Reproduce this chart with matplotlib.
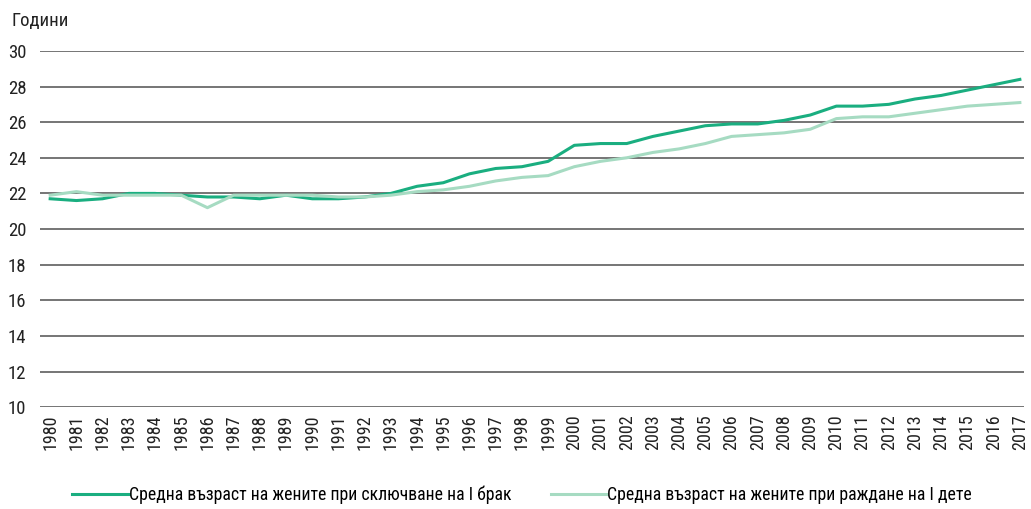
import matplotlib
matplotlib.use('Agg')
import matplotlib.pyplot as plt
from matplotlib import font_manager

years = list(range(1980, 2018))
marriage_age = [21.7, 21.6, 21.7, 22.0, 22.0, 21.9, 21.8, 21.8, 21.7, 21.9,
                21.7, 21.7, 21.8, 22.0, 22.4, 22.6, 23.1, 23.4, 23.5, 23.8,
                24.7, 24.8, 24.8, 25.2, 25.5, 25.8, 25.9, 25.9, 26.1, 26.4,
                26.9, 26.9, 27.0, 27.3, 27.5, 27.8, 28.1, 28.4]
birth_age = [21.9, 22.1, 21.9, 21.9, 21.9, 21.9, 21.2, 21.9, 21.9, 21.9,
             21.9, 21.8, 21.8, 21.9, 22.1, 22.2, 22.4, 22.7, 22.9, 23.0,
             23.5, 23.8, 24.0, 24.3, 24.5, 24.8, 25.2, 25.3, 25.4, 25.6,
             26.2, 26.3, 26.3, 26.5, 26.7, 26.9, 27.0, 27.1]
labels = ['Средна възраст на жените при сключване на I брак',
          'Средна възраст на жените при раждане на I дете']
y_ticks = list(range(10, 31, 2))

# pick a condensed face if one is around
names = {f.name for f in font_manager.fontManager.ttflist}
family = 'DejaVu Sans'
for n in ['Roboto Condensed', 'Open Sans Condensed', 'Liberation Sans Narrow']:
    if n in names:
        family = n
        break
plt.rcParams['font.family'] = [family, 'DejaVu Sans']
plt.rcParams['font.stretch'] = 'condensed'

fig = plt.figure(figsize=(10.31, 5.09), dpi=100)
ax = fig.add_axes([0.039, 0.2, 0.954, 0.7])

ax.plot(years, marriage_age, color='#1aae80', lw=2.2, label=labels[0])
ax.plot(years, birth_age, color='#a6dbc2', lw=2.2, label=labels[1])

ax.set_ylim(10, 30)
ax.set_yticks(y_ticks)
ax.set_xlim(1979.62, 2017.15)
ax.set_xticks(years)
ax.set_xticklabels([str(y) for y in years], rotation=90, fontsize=13, color='#222222')
ax.tick_params(axis='y', labelsize=13.5, colors='#222222', length=0, pad=10)
ax.tick_params(axis='x', length=0, pad=5)

ax.grid(axis='y', color='#505050', lw=1.1)
ax.set_axisbelow(True)
for s in ax.spines.values():
    s.set_visible(False)

fig.text(0.011, 0.942, 'Години', fontsize=13.5, color='#222222', va='bottom')

ax.legend(loc='upper center', bbox_to_anchor=(0.49, -0.175), ncol=2, frameon=False,
          fontsize=12.8, handlelength=3.2, handletextpad=0.0, columnspacing=2.2)

fig.savefig('out.png', dpi=100)
